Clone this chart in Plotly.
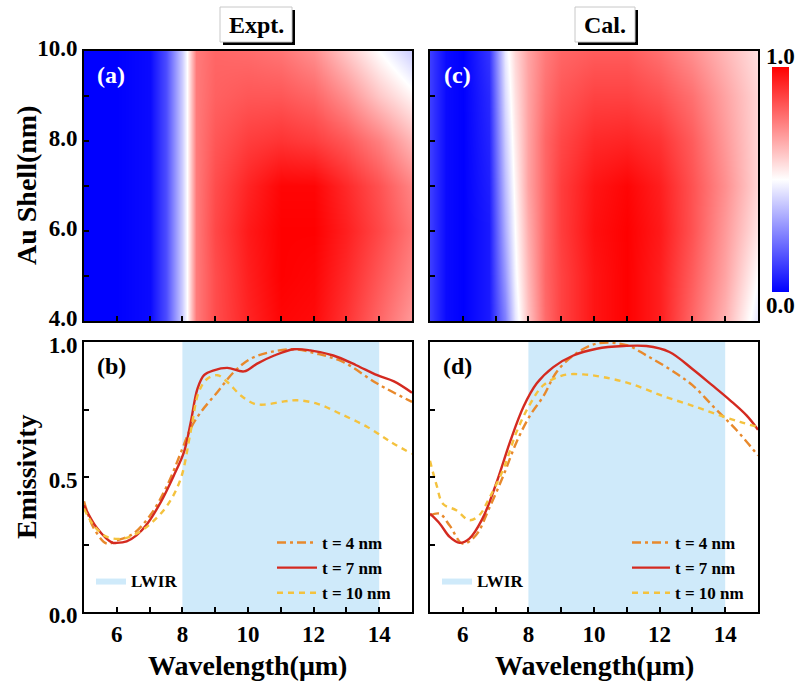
import plotly.graph_objects as go

W, H = 795, 684
FONT = "Liberation Serif, Times New Roman, serif"

# ---------------- heatmap data ----------------
shell_nm = [4, 5, 6, 7, 8, 9, 10]

wl_expt = [5, 6, 7, 7.5, 8, 8.15, 8.4, 9, 10, 11, 12, 13, 14, 15]
z_expt = [
    [0, 0, 0.02, 0.15, 0.40, 0.50, 0.76, 0.85, 0.93, 0.99, 0.98, 0.90, 0.80, 0.70],
    [0, 0, 0.02, 0.15, 0.40, 0.50, 0.76, 0.85, 0.94, 1.00, 0.99, 0.92, 0.83, 0.74],
    [0, 0, 0.02, 0.15, 0.40, 0.50, 0.76, 0.86, 0.95, 1.00, 1.00, 0.94, 0.86, 0.77],
    [0, 0, 0.02, 0.15, 0.40, 0.50, 0.76, 0.85, 0.93, 0.99, 0.99, 0.92, 0.84, 0.74],
    [0, 0, 0.02, 0.15, 0.40, 0.50, 0.76, 0.83, 0.88, 0.90, 0.88, 0.83, 0.75, 0.64],
    [0, 0, 0.02, 0.15, 0.40, 0.50, 0.76, 0.81, 0.83, 0.83, 0.80, 0.72, 0.61, 0.52],
    [0, 0, 0.02, 0.15, 0.40, 0.50, 0.76, 0.80, 0.79, 0.77, 0.72, 0.61, 0.50, 0.40],
]

wl_cal = [5, 5.5, 6, 6.8, 7.3, 7.6, 8.0, 8.5, 9, 10, 11, 12, 13, 14, 15]
z_cal = [
    [0.12, 0.02, 0, 0.05, 0.25, 0.45, 0.62, 0.79, 0.87, 0.96, 1.00, 0.94, 0.80, 0.65, 0.45],
    [0.12, 0.02, 0, 0.05, 0.30, 0.48, 0.64, 0.80, 0.87, 0.96, 1.00, 0.94, 0.82, 0.68, 0.50],
    [0.12, 0.02, 0, 0.05, 0.34, 0.50, 0.66, 0.80, 0.88, 0.97, 1.00, 0.95, 0.84, 0.70, 0.55],
    [0.12, 0.02, 0, 0.06, 0.37, 0.52, 0.68, 0.80, 0.88, 0.96, 0.99, 0.94, 0.84, 0.72, 0.58],
    [0.12, 0.02, 0, 0.07, 0.40, 0.54, 0.68, 0.80, 0.86, 0.92, 0.93, 0.90, 0.82, 0.70, 0.58],
    [0.12, 0.02, 0, 0.08, 0.43, 0.56, 0.68, 0.78, 0.83, 0.87, 0.87, 0.84, 0.78, 0.68, 0.58],
    [0.12, 0.02, 0, 0.10, 0.46, 0.58, 0.68, 0.76, 0.80, 0.82, 0.82, 0.78, 0.72, 0.64, 0.56],
]

# ---------------- emissivity curves ----------------
# (b) experiment
b_wl_4 = [5, 5.3, 5.7, 6.0, 6.5, 7.03, 7.54, 8.0, 8.25, 8.56, 9.07, 9.57, 10.08, 10.69, 11.4, 12.1, 12.9, 13.94, 15]
b_em_4 = [0.41, 0.31, 0.253, 0.265, 0.29, 0.36, 0.47, 0.605, 0.68, 0.74, 0.815, 0.889, 0.938, 0.963, 0.973, 0.957, 0.926, 0.846, 0.778]
b_wl_7 = [5, 5.4, 5.86, 6.0, 6.3, 6.6, 6.93, 7.34, 7.74, 8.05, 8.25, 8.46, 8.66, 8.96, 9.37, 9.88, 10.28, 10.8, 11.4, 11.9, 12.6, 13.3, 13.94, 14.45, 15]
b_em_7 = [0.395, 0.31, 0.257, 0.256, 0.262, 0.284, 0.327, 0.407, 0.506, 0.593, 0.70, 0.827, 0.877, 0.895, 0.904, 0.891, 0.92, 0.95, 0.973, 0.969, 0.95, 0.914, 0.877, 0.854, 0.812]
b_wl_10 = [5, 5.3, 5.7, 6.2, 6.6, 7.03, 7.54, 7.95, 8.25, 8.5, 8.76, 9.07, 9.37, 9.78, 10.18, 10.49, 11.1, 11.5, 12.1, 12.8, 13.64, 14.35, 15]
b_em_10 = [0.383, 0.32, 0.278, 0.272, 0.29, 0.327, 0.395, 0.494, 0.667, 0.815, 0.864, 0.877, 0.852, 0.802, 0.772, 0.768, 0.78, 0.784, 0.772, 0.735, 0.685, 0.63, 0.586]

# (d) calculation
d_wl_4 = [5, 5.3, 5.6, 6.0, 6.4, 6.8, 7.24, 7.64, 8.05, 8.46, 8.86, 9.37, 10.08, 11.0, 11.6, 12.3, 13.0, 13.7, 14.35, 15]
d_em_4 = [0.358, 0.364, 0.32, 0.253, 0.284, 0.383, 0.506, 0.63, 0.728, 0.80, 0.889, 0.95, 0.994, 0.988, 0.95, 0.90, 0.84, 0.753, 0.673, 0.58]
d_wl_7 = [5, 5.3, 5.6, 5.9, 6.2, 6.6, 7.03, 7.44, 7.85, 8.25, 8.76, 9.37, 10.08, 10.9, 11.6, 12.3, 13.0, 13.6, 14.15, 14.65, 15]
d_em_7 = [0.364, 0.327, 0.278, 0.256, 0.272, 0.346, 0.48, 0.63, 0.76, 0.846, 0.907, 0.95, 0.975, 0.985, 0.985, 0.963, 0.90, 0.84, 0.784, 0.728, 0.675]
d_wl_10 = [5, 5.2, 5.4, 5.8, 6.2, 6.5, 6.8, 7.24, 7.64, 8.05, 8.46, 9.07, 9.67, 10.28, 11.1, 12.1, 13.1, 13.84, 14.45, 15]
d_em_10 = [0.56, 0.47, 0.40, 0.377, 0.34, 0.358, 0.42, 0.53, 0.667, 0.77, 0.84, 0.877, 0.88, 0.87, 0.846, 0.80, 0.76, 0.728, 0.704, 0.685]

lwir_band = [8, 14]
series_names = ["t = 4 nm", "t = 7 nm", "t = 10 nm"]
band_name = "LWIR"

# ---------------- styles ----------------
C4, C7, C10 = "#E8892C", "#D42A20", "#F4C23E"
BAND = "rgb(207,234,250)"
BWR = [[0, "rgb(0,0,255)"], [0.5, "rgb(255,255,255)"], [1, "rgb(255,0,0)"]]


def px_x(p):
    return p / W


def px_y(p):
    return 1 - p / H


fig = go.Figure()

fig.add_trace(go.Heatmap(x=wl_expt, y=shell_nm, z=z_expt, coloraxis="coloraxis",
                         zsmooth="best", xaxis="x", yaxis="y", hoverinfo="skip"))
fig.add_trace(go.Heatmap(x=wl_cal, y=shell_nm, z=z_cal, coloraxis="coloraxis",
                         zsmooth="best", xaxis="x2", yaxis="y2", hoverinfo="skip"))

panels = [
    ("x3", "y3", "legend", "legend2", (b_wl_4, b_em_4), (b_wl_7, b_em_7), (b_wl_10, b_em_10)),
    ("x4", "y4", "legend3", "legend4", (d_wl_4, d_em_4), (d_wl_7, d_em_7), (d_wl_10, d_em_10)),
]
for xa, ya, lg_lines, lg_band, s4, s7, s10 in panels:
    bx = [lwir_band[0], lwir_band[1], lwir_band[1], lwir_band[0], lwir_band[0]]
    by = [0, 0, 1, 1, 0]
    fig.add_trace(go.Scatter(x=bx, y=by, fill="toself", fillcolor=BAND, mode="lines",
                             line=dict(width=0, color=BAND), name=band_name,
                             xaxis=xa, yaxis=ya, legend=lg_band, hoverinfo="skip"))
    fig.add_trace(go.Scatter(x=s4[0], y=s4[1], mode="lines", name=series_names[0],
                             line=dict(color=C4, width=2.4, dash="9px,4px,3px,4px", shape="spline"),
                             xaxis=xa, yaxis=ya, legend=lg_lines))
    fig.add_trace(go.Scatter(x=s7[0], y=s7[1], mode="lines", name=series_names[1],
                             line=dict(color=C7, width=2.4, shape="spline"),
                             xaxis=xa, yaxis=ya, legend=lg_lines))
    fig.add_trace(go.Scatter(x=s10[0], y=s10[1], mode="lines", name=series_names[2],
                             line=dict(color=C10, width=2.4, dash="6px,5px", shape="spline"),
                             xaxis=xa, yaxis=ya, legend=lg_lines))

tickfont = dict(family=FONT, size=23, color="black", weight="bold")
axis_common = dict(showline=True, linecolor="black", linewidth=2, mirror=True,
                   ticks="inside", ticklen=5, tickwidth=1.5, tickcolor="black",
                   showgrid=False, zeroline=False, tickfont=tickfont, fixedrange=True,
                   automargin=False)

xa_dom = [px_x(84), px_x(412)]
xc_dom = [px_x(430), px_x(758)]
top_dom = [px_y(321), px_y(51)]
bot_dom = [px_y(612), px_y(342)]

hm_xticks = list(range(5, 16))
hm_yticks = [4, 5, 6, 7, 8, 9, 10]
hm_ytext = ["4.0", "", "6.0", "", "8.0", "", "10.0"]
em_xticks = list(range(5, 16))
em_xtext = ["" if v % 2 else str(v) for v in em_xticks]
em_yticks = [0, 0.25, 0.5, 0.75, 1.0]
em_ytext = ["0.0", "", "0.5", "", "1.0"]

legend_font = dict(family=FONT, size=17, color="black", weight="bold")
leg_common = dict(bgcolor="rgba(0,0,0,0)", borderwidth=0, font=legend_font,
                  xanchor="left", yanchor="top", tracegroupgap=0, itemclick=False,
                  itemdoubleclick=False)

fig.update_layout(
    width=W, height=H, margin=dict(l=0, r=0, t=0, b=0, autoexpand=False),
    paper_bgcolor="white", plot_bgcolor="white",
    font=dict(family=FONT, color="black"),
    coloraxis=dict(colorscale=BWR, cmin=0, cmax=1,
                   colorbar=dict(x=px_x(772), xanchor="left", thickness=17, xpad=0, ypad=0,
                                 len=225 / H, lenmode="fraction", y=px_y(179.5), yanchor="middle",
                                 showticklabels=False, ticks="", outlinewidth=0)),
    xaxis=dict(domain=xa_dom, range=[5, 15], anchor="y", tickvals=hm_xticks,
               showticklabels=False, **axis_common),
    yaxis=dict(domain=top_dom, range=[4, 10], anchor="x", tickvals=hm_yticks,
               ticktext=hm_ytext, ticklabelshift=-3, **axis_common),
    xaxis2=dict(domain=xc_dom, range=[5, 15], anchor="y2", tickvals=hm_xticks,
                showticklabels=False, **axis_common),
    yaxis2=dict(domain=top_dom, range=[4, 10], anchor="x2", tickvals=hm_yticks,
                showticklabels=False, **axis_common),
    xaxis3=dict(domain=xa_dom, range=[5, 15], anchor="y3", tickvals=em_xticks,
                ticktext=em_xtext, **axis_common),
    yaxis3=dict(domain=bot_dom, range=[0, 1], anchor="x3", tickvals=em_yticks,
                ticktext=em_ytext, ticklabelshift=3, **axis_common),
    xaxis4=dict(domain=xc_dom, range=[5, 15], anchor="y4", tickvals=em_xticks,
                ticktext=em_xtext, **axis_common),
    yaxis4=dict(domain=bot_dom, range=[0, 1], anchor="x4", tickvals=em_yticks,
                showticklabels=False, **axis_common),
    legend=dict(x=px_x(272), y=px_y(525), itemwidth=40, **leg_common),
    legend2=dict(x=px_x(91), y=px_y(563), **leg_common),
    legend3=dict(x=px_x(627), y=px_y(525), itemwidth=38, **leg_common),
    legend4=dict(x=px_x(437), y=px_y(563), **leg_common),
    showlegend=True,
)

# title boxes with shadow
for (x0, x1, txt) in [(220, 292, "Expt."), (575, 635, "Cal.")]:
    fig.add_shape(type="rect", xref="paper", yref="paper",
                  x0=px_x(x0 + 3), x1=px_x(x1 + 3), y0=px_y(45), y1=px_y(10),
                  fillcolor="black", line=dict(width=0), layer="above")
    fig.add_shape(type="rect", xref="paper", yref="paper",
                  x0=px_x(x0), x1=px_x(x1), y0=px_y(42), y1=px_y(7),
                  fillcolor="white", line=dict(width=1, color="#c8c8c8"), layer="above")
    fig.add_annotation(x=px_x((x0 + x1) / 2), y=px_y(25), xref="paper", yref="paper",
                       text=txt, showarrow=False, xanchor="center", yanchor="middle",
                       font=dict(family=FONT, size=24, color="black", weight="bold"))

ann_font = dict(family=FONT, size=24, weight="bold")
labels = [("(a)", 111, 75, "white"), ("(c)", 457, 75, "white"),
          ("(b)", 111, 366, "black"), ("(d)", 457, 366, "black")]
for t, x, y, c in labels:
    fig.add_annotation(x=px_x(x), y=px_y(y), xref="paper", yref="paper", text=t,
                       showarrow=False, xanchor="center", yanchor="middle",
                       font=dict(ann_font, color=c))

# axis titles
title_font = dict(family=FONT, size=28, color="black", weight="bold")
fig.add_annotation(x=px_x(27), y=px_y(186), xref="paper", yref="paper", text="Au Shell(nm)",
                   textangle=-90, showarrow=False, xanchor="center", yanchor="middle", font=title_font)
fig.add_annotation(x=px_x(27), y=px_y(477), xref="paper", yref="paper", text="Emissivity",
                   textangle=-90, showarrow=False, xanchor="center", yanchor="middle", font=title_font)
for cx in [247, 594]:
    fig.add_annotation(x=px_x(cx), y=px_y(665), xref="paper", yref="paper", text="Wavelength(μm)",
                       showarrow=False, xanchor="center", yanchor="middle", font=title_font)

# colorbar labels
cb_font = dict(family=FONT, size=23, color="black", weight="bold")
fig.add_annotation(x=px_x(780), y=px_y(56), xref="paper", yref="paper", text="1.0",
                   showarrow=False, xanchor="center", yanchor="middle", font=cb_font)
fig.add_annotation(x=px_x(780), y=px_y(305), xref="paper", yref="paper", text="0.0",
                   showarrow=False, xanchor="center", yanchor="middle", font=cb_font)

fig.write_html("out.html")
